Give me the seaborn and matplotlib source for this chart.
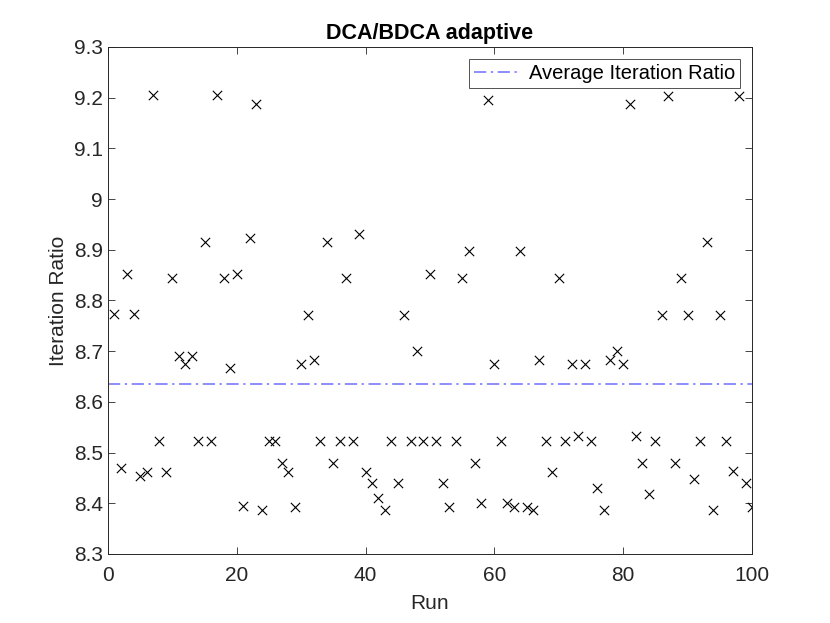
import numpy as np
import pandas as pd
import matplotlib
matplotlib.use("Agg")
import matplotlib.pyplot as plt
import seaborn as sns

# ---------------------------------------------------------------
# Data (run index -> iteration ratio)
# ---------------------------------------------------------------
runs = list(range(1, 101))
ratios = [
    8.773, 8.470, 8.853, 8.773, 8.453, 8.462, 9.205, 8.523, 8.462, 8.845,
    8.691, 8.675, 8.691, 8.523, 8.915, 8.523, 9.205, 8.845, 8.667, 8.853,
    8.395, 8.923, 9.187, 8.387, 8.523, 8.523, 8.479, 8.462, 8.393, 8.675,
    8.772, 8.683, 8.523, 8.915, 8.479, 8.523, 8.845, 8.523, 8.931, 8.462,
    8.439, 8.410, 8.387, 8.523, 8.439, 8.772, 8.523, 8.700, 8.523, 8.853,
    8.523, 8.439, 8.393, 8.523, 8.845, 8.897, 8.479, 8.401, 9.195, 8.675,
    8.523, 8.401, 8.393, 8.897, 8.393, 8.387, 8.683, 8.523, 8.462, 8.845,
    8.523, 8.675, 8.533, 8.675, 8.523, 8.430, 8.387, 8.683, 8.700, 8.675,
    9.187, 8.532, 8.479, 8.419, 8.523, 8.772, 9.203, 8.479, 8.845, 8.772,
    8.447, 8.523, 8.915, 8.387, 8.772, 8.523, 8.463, 9.203, 8.439, 8.393,
]
x_ticks = [0, 20, 40, 60, 80, 100]
y_ticks = [8.3, 8.4, 8.5, 8.6, 8.7, 8.8, 8.9, 9.0, 9.1, 9.2, 9.3]
y_ticklabels = ["8.3", "8.4", "8.5", "8.6", "8.7", "8.8", "8.9", "9", "9.1", "9.2", "9.3"]

df = pd.DataFrame({"Run": runs, "Ratio": ratios})
avg = df["Ratio"].mean()

# ---------------------------------------------------------------
# MATLAB-like styling
# ---------------------------------------------------------------
sns.set_style("white")
plt.rcParams["font.family"] = ["Liberation Sans", "DejaVu Sans"]
plt.rcParams["axes.edgecolor"] = "#262626"
plt.rcParams["xtick.color"] = "#262626"
plt.rcParams["ytick.color"] = "#262626"

fig = plt.figure(figsize=(8.3, 6.23), dpi=100)
ax = fig.add_axes([0.13, 0.1108, 0.776, 0.8138])

sns.scatterplot(data=df, x="Run", y="Ratio", marker="x", color="black",
                s=45, linewidth=0.8, ax=ax, legend=False)
ax.axhline(avg, color="#6e6eff", linestyle=(0, (8, 3, 1.5, 3)), linewidth=1.1,
           label="Average Iteration Ratio")

ax.set_xlim(0, 100)
ax.set_ylim(8.3, 9.3)
ax.set_xticks(x_ticks)
ax.set_yticks(y_ticks)
ax.set_yticklabels(y_ticklabels)
ax.tick_params(direction="in", length=5, width=0.6, labelsize=15,
               top=True, right=True, left=True, bottom=True)
ax.tick_params(axis="x", pad=9)
for sp in ax.spines.values():
    sp.set_linewidth(0.7)

ax.set_xlabel("Run", fontsize=15, color="#262626", labelpad=6)
ax.set_ylabel("Iteration Ratio", fontsize=15, color="#262626", labelpad=4)
ax.set_title("DCA/BDCA adaptive", fontsize=15.5, fontweight="bold", pad=6,
             color="black")

leg = ax.legend(loc="upper right", fontsize=14.5, frameon=True, fancybox=False,
                borderpad=0.25, handlelength=2.2, handletextpad=0.5,
                borderaxespad=0.6)
leg.get_frame().set_edgecolor("#262626")
leg.get_frame().set_linewidth(0.7)
for t in leg.get_texts():
    t.set_color("black")

fig.savefig("out.png", dpi=100)
